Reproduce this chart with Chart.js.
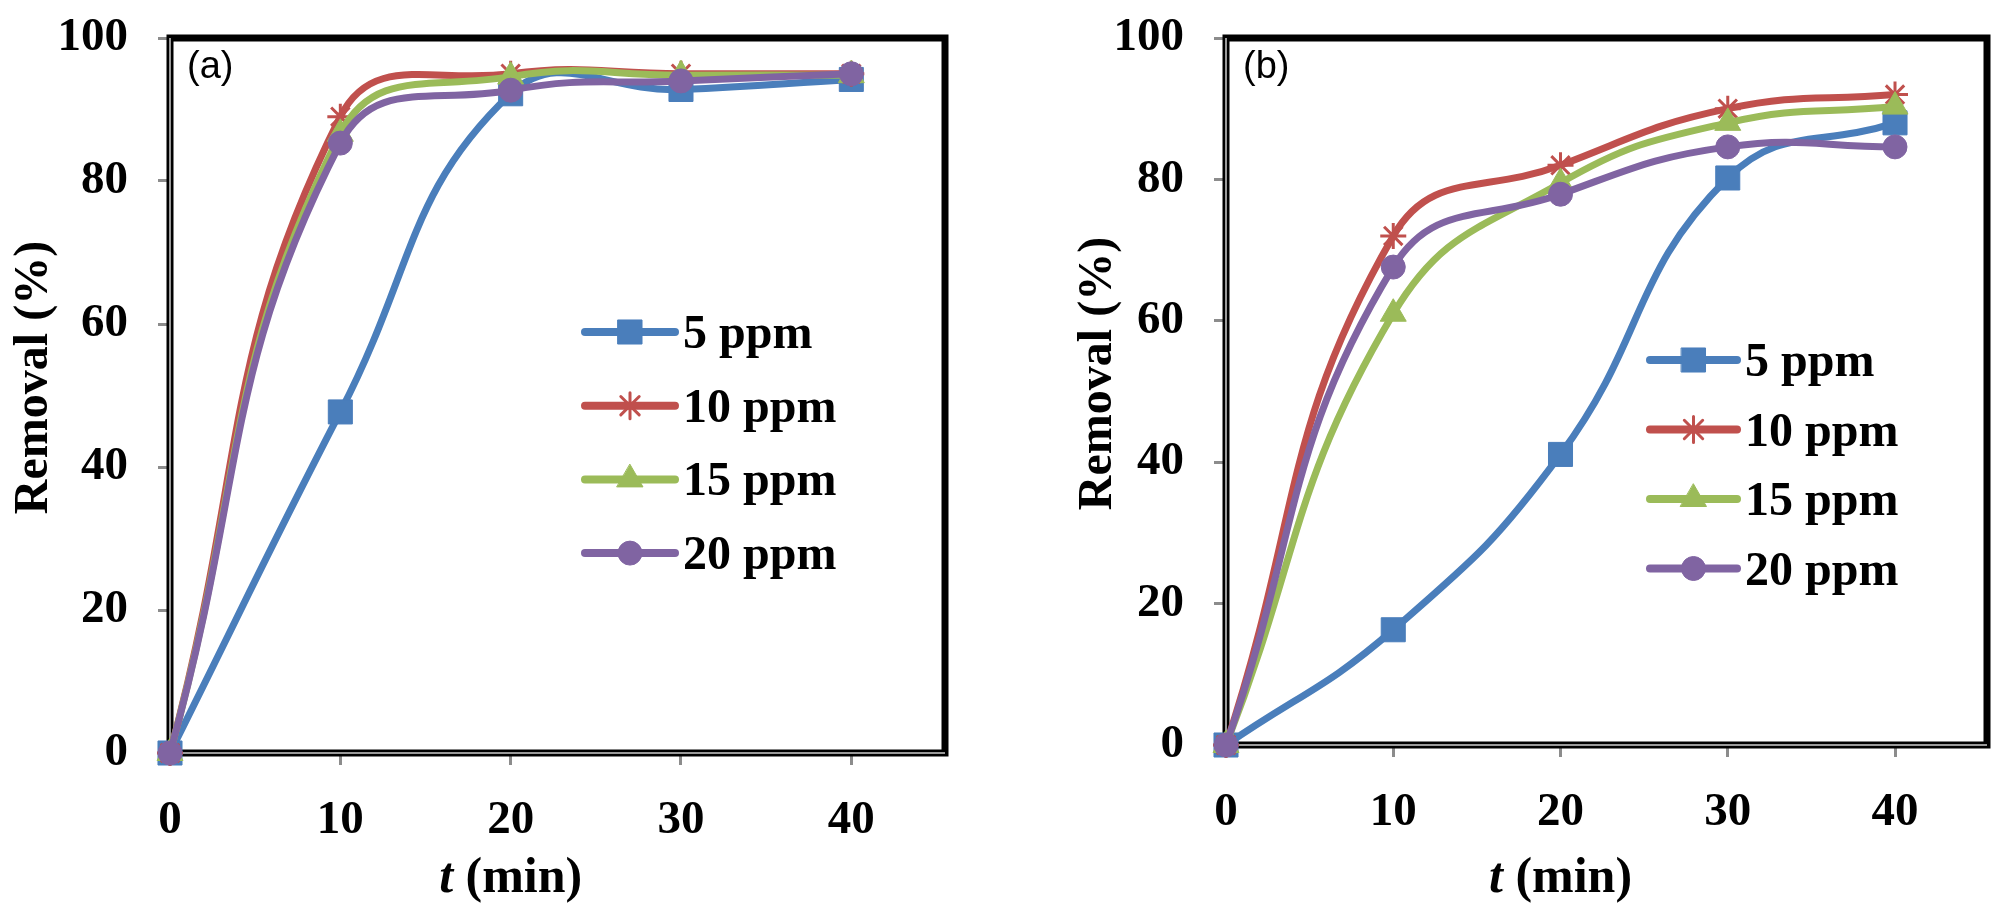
<!DOCTYPE html>
<html>
<head>
<meta charset="utf-8">
<script src="https://cdn.jsdelivr.net/npm/chart.js@4.4.0/dist/chart.umd.min.js"></script>
<style>
  html, body { margin: 0; padding: 0; background: #fff; }
  #wrap { position: relative; width: 2005px; height: 908px; }
  .panel { position: absolute; top: 0; }
  #panelA { left: 0; }
  #panelB { left: 1000px; }
</style>
</head>
<body>
<div id="wrap">
  <div class="panel" id="panelA"><canvas id="chartA" width="1000" height="908"></canvas></div>
  <div class="panel" id="panelB"><canvas id="chartB" width="1005" height="908"></canvas></div>
</div>
<script>
// data
const waktu = [0, 10, 20, 30, 40];
const namaSeri = ['5 ppm', '10 ppm', '15 ppm', '20 ppm'];
const tickX = [0, 10, 20, 30, 40];
const tickY = [0, 20, 40, 60, 80, 100];

// panel (a)
const a5 = [0, 47.7, 92.2, 92.8, 94.2];
const a10 = [0, 89.0, 95.0, 95.0, 95.0];
const a15 = [0, 86.6, 94.6, 94.8, 94.8];
const a20 = [0, 85.3, 92.7, 94.0, 95.0];

// panel (b)
const b5 = [0, 16.3, 41.1, 80.2, 88.0];
const b10 = [0, 72.0, 82.0, 90.0, 92.0];
const b15 = [0, 61.0, 79.5, 88.0, 90.3];
const b20 = [0, 67.6, 77.9, 84.6, 84.6];

const warna = ['#4a7ebb', '#c0504d', '#9bbb59', '#8064a2'];
const bentuk = ['rect', 'star', 'triangle', 'circle'];
const radius = [17, 13, 15, 12];
const SERIF = '"Liberation Serif", "Times New Roman", serif';

const pluginBingkai = {
  id: 'bingkai',
  beforeDatasetsDraw(chart) {
    const { ctx, chartArea: { left, top, right, bottom } } = chart;
    ctx.save();
    ctx.strokeStyle = '#000';
    ctx.lineWidth = 7;
    ctx.strokeRect(left, top, right - left, bottom - top);
    ctx.strokeStyle = '#9a9a9a';
    ctx.lineWidth = 2;
    ctx.beginPath();
    ctx.moveTo(left, top);
    ctx.lineTo(left, bottom);
    ctx.lineTo(right, bottom);
    ctx.stroke();
    ctx.restore();
  }
};

const pluginLegenda = {
  id: 'legenda',
  afterDraw(chart, args, opts) {
    const ctx = chart.ctx;
    ctx.save();
    chart.data.datasets.forEach((ds, i) => {
      const y = opts.y + i * opts.jarak;
      ctx.strokeStyle = ds.borderColor;
      ctx.lineWidth = 8;
      ctx.lineCap = 'round';
      ctx.beginPath();
      ctx.moveTo(opts.x, y);
      ctx.lineTo(opts.x + opts.panjang, y);
      ctx.stroke();
      ctx.fillStyle = ds.borderColor;
      ctx.lineWidth = ds.pointBorderWidth;
      Chart.helpers.drawPoint(ctx, {
        pointStyle: ds.pointStyle, radius: ds.pointRadius,
        borderWidth: ds.pointBorderWidth, rotation: 0
      }, opts.x + opts.panjang / 2, y);
      ctx.fillStyle = '#000';
      ctx.font = 'bold 48px ' + SERIF;
      ctx.textBaseline = 'alphabetic';
      ctx.fillText(ds.label, opts.x + opts.panjang + 8, y + 16);
    });
    ctx.restore();
  }
};

const pluginJudul = {
  id: 'judul',
  afterDraw(chart, args, opts) {
    const ctx = chart.ctx;
    const xs = chart.scales.x;
    const area = chart.chartArea;
    ctx.save();
    ctx.fillStyle = '#000';
    ctx.textBaseline = 'alphabetic';
    // judul sumbu x, huruf t miring
    const fMiring = 'italic bold 50px ' + SERIF;
    const fTegak = 'bold 50px ' + SERIF;
    ctx.font = fMiring;
    const w1 = ctx.measureText('t').width;
    ctx.font = fTegak;
    const w2 = ctx.measureText(' (min)').width;
    let x = xs.getPixelForValue(20) - (w1 + w2) / 2;
    ctx.font = fMiring;
    ctx.fillText('t', x, opts.xJudulY);
    ctx.font = fTegak;
    ctx.fillText(' (min)', x + w1, opts.xJudulY);
    // judul sumbu y
    ctx.save();
    ctx.translate(opts.yJudulX, (area.top + area.bottom) / 2 - 18);
    ctx.rotate(-Math.PI / 2);
    ctx.textAlign = 'center';
    ctx.font = 'bold 48px ' + SERIF;
    ctx.fillText('Removal (%)', 0, 15);
    ctx.restore();
    // label panel
    ctx.font = '38px "Liberation Sans", Arial, sans-serif';
    ctx.fillText(opts.panel, area.left + 17, area.top + 40);
    ctx.restore();
  }
};

function buatSeri(nilai) {
  return nilai.map((seri, i) => ({
    label: namaSeri[i],
    data: waktu.map((t, j) => ({ x: t, y: seri[j] })),
    borderColor: warna[i],
    backgroundColor: warna[i],
    borderWidth: 7,
    pointStyle: bentuk[i],
    pointRadius: radius[i],
    pointBorderWidth: bentuk[i] === 'star' ? 3 : 1,
    pointBackgroundColor: warna[i],
    pointBorderColor: warna[i],
    tension: 0.45,
    clip: false,
    order: 4 - i
  }));
}

function buatChart(id, nilai, cfg) {
  const ctx = document.getElementById(id).getContext('2d');
  return new Chart(ctx, {
    type: 'line',
    data: { datasets: buatSeri(nilai) },
    options: {
      responsive: false,
      animation: false,
      layout: { padding: cfg.padding },
      plugins: {
        legend: { display: false },
        tooltip: { enabled: false },
        legenda: cfg.legenda,
        judul: cfg.judul
      },
      scales: {
        x: {
          type: 'linear',
          min: 0,
          max: 45.5,
          afterBuildTicks: s => { s.ticks = tickX.map(v => ({ value: v })); },
          afterFit: s => { s.height = cfg.tinggiX; s.paddingLeft = 0; s.paddingRight = 0; },
          grid: { drawOnChartArea: false, drawTicks: true, tickLength: 12, color: '#8c8c8c', lineWidth: 3 },
          border: { display: false },
          ticks: { color: '#000', padding: 28, maxRotation: 0, font: { family: SERIF, size: 47, weight: 'bold' } }
        },
        y: {
          min: 0,
          max: 100,
          afterBuildTicks: s => { s.ticks = tickY.map(v => ({ value: v })); },
          afterFit: s => { s.width = cfg.lebarY; s.paddingTop = 0; s.paddingBottom = 0; },
          grid: { drawOnChartArea: false, drawTicks: true, tickLength: 12, color: '#8c8c8c', lineWidth: 3 },
          border: { display: false },
          ticks: { color: '#000', padding: 30, font: { family: SERIF, size: 47, weight: 'bold' } }
        }
      }
    },
    plugins: [pluginBingkai, pluginLegenda, pluginJudul]
  });
}

buatChart('chartA', [a5, a10, a15, a20], {
  padding: { top: 38, right: 55, bottom: 0, left: 0 },
  lebarY: 170,
  tinggiX: 155,
  legenda: { x: 585, y: 332, jarak: 73.7, panjang: 90 },
  judul: { xJudulY: 892, yJudulX: 32, panel: '(a)' }
});

buatChart('chartB', [b5, b10, b15, b20], {
  padding: { top: 38, right: 17, bottom: 0, left: 62 },
  lebarY: 164,
  tinggiX: 163,
  legenda: { x: 650, y: 360, jarak: 69.5, panjang: 87 },
  judul: { xJudulY: 892, yJudulX: 96, panel: '(b)' }
});
</script>
</body>
</html>
